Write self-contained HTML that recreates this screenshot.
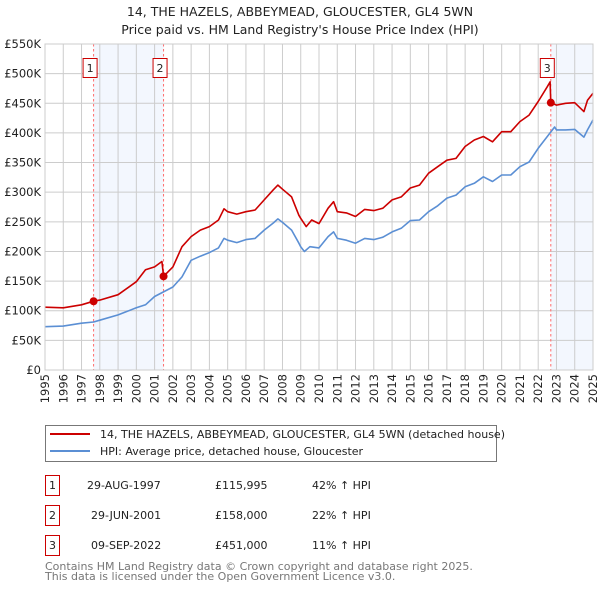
<!DOCTYPE html>
<html><head><meta charset="utf-8"><style>
body{margin:0;background:#fff;font-family:"DejaVu Sans","Liberation Sans",sans-serif;}
svg text{font-family:"DejaVu Sans","Liberation Sans",sans-serif;}
</style></head><body>
<svg id="c" width="600" height="590" xmlns="http://www.w3.org/2000/svg">
<text x="300" y="16" text-anchor="middle" font-size="12.5" fill="#222">14, THE HAZELS, ABBEYMEAD, GLOUCESTER, GL4 5WN</text>
<text x="300" y="34" text-anchor="middle" font-size="12.5" fill="#222">Price paid vs. HM Land Registry's House Price Index (HPI)</text>
<g id="plot"></g>
<g>
<rect x="45.5" y="425.5" width="451" height="36" fill="#fff" stroke="#777"/>
<line x1="50" y1="434" x2="90" y2="434" stroke="#cc0000" stroke-width="2"/>
<text x="100" y="438" font-size="11" fill="#222">14, THE HAZELS, ABBEYMEAD, GLOUCESTER, GL4 5WN (detached house)</text>
<line x1="50" y1="451" x2="90" y2="451" stroke="#5b8fd4" stroke-width="2"/>
<text x="100" y="455" font-size="11" fill="#222">HPI: Average price, detached house, Gloucester</text>
</g>
<g font-size="11" fill="#222">
<rect x="45.5" y="475.5" width="14" height="20" fill="#fff" stroke="#cc0000"/><text x="52.5" y="489" text-anchor="middle">1</text>
<text x="87" y="489">29-AUG-1997</text><text x="215" y="489">£115,995</text><text x="312" y="489">42% ↑ HPI</text>
<rect x="45.5" y="505.5" width="14" height="20" fill="#fff" stroke="#cc0000"/><text x="52.5" y="519" text-anchor="middle">2</text>
<text x="91" y="519">29-JUN-2001</text><text x="215" y="519">£158,000</text><text x="312" y="519">22% ↑ HPI</text>
<rect x="45.5" y="535.5" width="14" height="20" fill="#fff" stroke="#cc0000"/><text x="52.5" y="549" text-anchor="middle">3</text>
<text x="91" y="549">09-SEP-2022</text><text x="215" y="549">£451,000</text><text x="312" y="549">11% ↑ HPI</text>
</g>
<text x="45" y="570" font-size="11" fill="#777">Contains HM Land Registry data © Crown copyright and database right 2025.</text>
<text x="45" y="580" font-size="11" fill="#777">This data is licensed under the Open Government Licence v3.0.</text>
</svg>
<script>
const hpiYears=[1995,1996,1997,1997.66,1998,1999,2000,2000.5,2001,2002,2002.5,2003,2003.5,2004,2004.5,2004.8,2005,2005.5,2006,2006.5,2007,2007.5,2007.75,2008,2008.5,2008.9,2009,2009.2,2009.5,2010,2010.5,2010.8,2011,2011.5,2012,2012.5,2013,2013.5,2014,2014.5,2015,2015.5,2016,2016.5,2017,2017.5,2018,2018.5,2019,2019.5,2020,2020.5,2021,2021.5,2022,2022.5,2022.9,2023,2023.5,2024,2024.5,2024.7,2025];
const hpiValues=[73,74,79,81,84,93,105,110,124,140,157,185,192,198,206,222,219,215,220,222,236,248,255,249,236,214,208,200,208,206,225,233,222,219,214,222,220,224,233,239,252,253,267,277,290,295,309,315,326,318,329,329,343,351,374,394,410,405,405,406,393,405,422];
const priceYears=[1995,1996,1997,1997.66,1998,1999,2000,2000.5,2001,2001.4,2001.49,2002,2002.5,2003,2003.5,2004,2004.5,2004.8,2005,2005.5,2006,2006.5,2007,2007.5,2007.75,2008,2008.5,2008.9,2009,2009.3,2009.6,2010,2010.5,2010.8,2011,2011.5,2012,2012.5,2013,2013.5,2014,2014.5,2015,2015.5,2016,2016.5,2017,2017.5,2018,2018.5,2019,2019.5,2020,2020.5,2021,2021.5,2022,2022.5,2022.65,2022.69,2023,2023.5,2024,2024.5,2024.7,2025];
const priceValues=[106,105,110,116,118,127,149,169,174,183,158,174,208,225,236,242,253,272,267,263,267,270,287,304,312,305,292,261,256,242,253,247,273,284,267,265,259,271,269,273,287,292,307,312,332,343,354,357,377,388,394,385,402,402,419,430,453,478,486,451,447,450,451,436,455,467];
const saleYears=[1997.66,2001.49,2022.69];
const saleValues=[116,158,451];
const saleLabels=["1","2","3"];
const shadeStarts=[1997.66,2022.69];
const shadeEnds=[2001.49,2025];
const yTicks=[0,50,100,150,200,250,300,350,400,450,500,550];
const yTickLabels=["£0","£50K","£100K","£150K","£200K","£250K","£300K","£350K","£400K","£450K","£500K","£550K"];
const xTicks=[1995,1996,1997,1998,1999,2000,2001,2002,2003,2004,2005,2006,2007,2008,2009,2010,2011,2012,2013,2014,2015,2016,2017,2018,2019,2020,2021,2022,2023,2024,2025];

const X0=45,X1=593,Y0=370,Y1=44;
const sx=v=>X0+(v-1995)/30*(X1-X0);
const sy=v=>Y0-v/550*(Y0-Y1);
const NS="http://www.w3.org/2000/svg";
const g=document.getElementById('plot');
function mk(t,a,p){const e=document.createElementNS(NS,t);for(const k in a)e.setAttribute(k,a[k]);(p||g).appendChild(e);return e;}
shadeStarts.forEach((s,i)=>{
 const r=mk('rect',{x:sx(s),y:Y1,width:sx(shadeEnds[i])-sx(s),height:Y0-Y1,fill:'#f3f7fe'});
 
 
});
yTicks.forEach((v,i)=>{
 const l=mk('line',{x1:X0,x2:X1,y1:sy(v),y2:sy(v),stroke:'#ccc','stroke-width':1});
 
 
 const t=mk('text',{x:X0-4,y:sy(v)+4,'text-anchor':'end','font-size':11.5,fill:'#222'});
 t.textContent=yTickLabels[i];
 
 
});
xTicks.forEach(v=>{
 const l=mk('line',{x1:sx(v),x2:sx(v),y1:Y1,y2:Y0,stroke:'#ccc','stroke-width':1});
 
 
 const t=mk('text',{x:0,y:0,'text-anchor':'end','font-size':11.5,fill:'#222',transform:`translate(${sx(v)+4},374) rotate(-90)`});
 t.textContent=v;
 
 
});
saleYears.forEach((y,i)=>{
 const l=mk('line',{x1:sx(y),x2:sx(y),y1:Y1,y2:Y0,stroke:'#ff6b6b','stroke-width':1,'stroke-dasharray':'2.5,2.5'});
 
 
});
function path(xs,vs,col,name){
 const d=xs.map((x,i)=>(i?'L':'M')+sx(x).toFixed(1)+','+sy(vs[i]).toFixed(1)).join('');
 const p=mk('path',{d:d,fill:'none',stroke:col,'stroke-width':1.6,'stroke-linejoin':'round'});
 
 
}
path(hpiYears,hpiValues,'#5b8fd4','hpi-line');
path(priceYears,priceValues,'#cc0000','property-price-line');
saleYears.forEach((y,i)=>{
 const c=mk('circle',{cx:sx(y),cy:sy(saleValues[i]),r:4,fill:'#cc0000'});
 
 
 const bx=sx(y)-3.5-7;
 const b=mk('rect',{x:bx,y:58.5,width:14,height:19,fill:'#fff',stroke:'#cc0000'});
 
 
 const t=mk('text',{x:bx+7,y:72,'text-anchor':'middle','font-size':11,fill:'#222'});
 t.textContent=saleLabels[i];
 
 
});
const ax=mk('rect',{x:X0,y:Y1,width:X1-X0,height:Y0-Y1,fill:'none',stroke:'#ccc'});


</script>
</body></html>
